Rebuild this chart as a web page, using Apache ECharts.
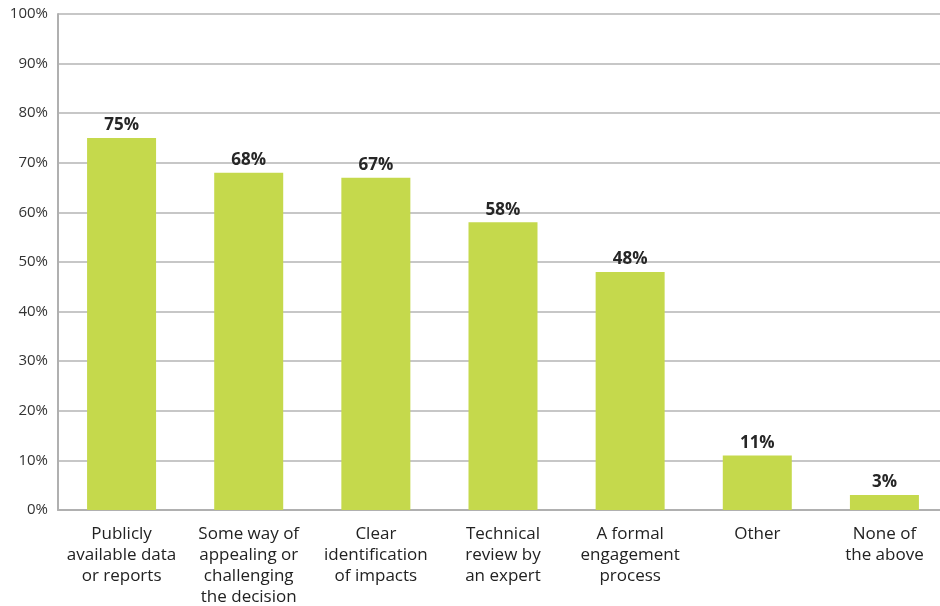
<!DOCTYPE html>
<html>
<head>
<meta charset="utf-8">
<script src="https://cdn.jsdelivr.net/npm/echarts@6/dist/echarts.min.js"></script>
<style>
html,body{margin:0;padding:0;background:#fff;}
#c{width:940px;height:606px;}
</style>
</head>
<body>
<div id="c"></div>
<script>
var categories = [
  "Publicly\navailable data\nor reports",
  "Some way of\nappealing or\nchallenging\nthe decision",
  "Clear\nidentification\nof impacts",
  "Technical\nreview by\nan expert",
  "A formal\nengagement\nprocess",
  "Other",
  "None of\nthe above"
];
var values = [75, 68, 67, 58, 48, 11, 3];
var yTicks = [0, 10, 20, 30, 40, 50, 60, 70, 80, 90, 100];

var chart = echarts.init(document.getElementById('c'), null, {renderer: 'canvas'});
chart.setOption({
  animation: false,
  textStyle: {fontFamily: 'Open Sans'},
  grid: {left: 58, width: 890, top: 14, bottom: 96, containLabel: false, outerBoundsMode: 'none'},
  xAxis: {
    type: 'category',
    data: categories,
    axisLine: {lineStyle: {color: '#b0b0b0', width: 2}},
    axisTick: {show: false},
    axisLabel: {
      interval: 0,
      color: '#222222',
      fontSize: 17,
      lineHeight: 21,
      margin: 14,
      fontFamily: 'Open Sans'
    }
  },
  yAxis: {
    type: 'value',
    min: yTicks[0],
    max: yTicks[yTicks.length - 1],
    interval: 10,
    axisLine: {show: true, lineStyle: {color: '#b0b0b0', width: 2}},
    axisTick: {show: false},
    axisLabel: {
      formatter: '{value}%',
      color: '#333333',
      fontSize: 15,
      margin: 10,
      fontFamily: 'Open Sans'
    },
    splitLine: {lineStyle: {color: '#b4b4b4', width: 1.5}}
  },
  series: [{
    type: 'bar',
    data: values,
    barWidth: 69,
    itemStyle: {color: '#c5d94c'},
    label: {
      show: true,
      position: 'top',
      formatter: '{c}%',
      color: '#262626',
      fontSize: 17,
      fontWeight: 'bold',
      distance: 4,
      fontFamily: 'Open Sans'
    }
  }]
});
</script>
</body>
</html>
